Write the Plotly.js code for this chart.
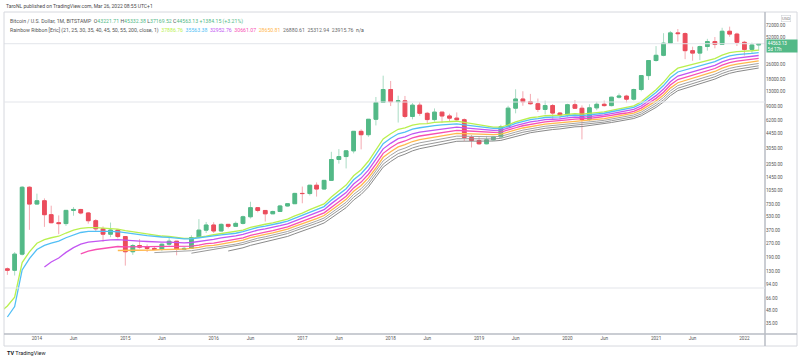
<!DOCTYPE html>
<html><head><meta charset="utf-8">
<script src="https://cdn.plot.ly/plotly-3.0.1.min.js"></script>
<style>html,body{margin:0;padding:0;background:#fff;}#chart{width:800px;height:362px;}</style>
</head><body><div id="chart"></div>
<script>
// ---------- DATA ----------
const months = [
 '2013-07','2013-08','2013-09','2013-10','2013-11','2013-12',
 '2014-01','2014-02','2014-03','2014-04','2014-05','2014-06','2014-07','2014-08','2014-09','2014-10','2014-11','2014-12',
 '2015-01','2015-02','2015-03','2015-04','2015-05','2015-06','2015-07','2015-08','2015-09','2015-10','2015-11','2015-12',
 '2016-01','2016-02','2016-03','2016-04','2016-05','2016-06','2016-07','2016-08','2016-09','2016-10','2016-11','2016-12',
 '2017-01','2017-02','2017-03','2017-04','2017-05','2017-06','2017-07','2017-08','2017-09','2017-10','2017-11','2017-12',
 '2018-01','2018-02','2018-03','2018-04','2018-05','2018-06','2018-07','2018-08','2018-09','2018-10','2018-11','2018-12',
 '2019-01','2019-02','2019-03','2019-04','2019-05','2019-06','2019-07','2019-08','2019-09','2019-10','2019-11','2019-12',
 '2020-01','2020-02','2020-03','2020-04','2020-05','2020-06','2020-07','2020-08','2020-09','2020-10','2020-11','2020-12',
 '2021-01','2021-02','2021-03','2021-04','2021-05','2021-06','2021-07','2021-08','2021-09','2021-10','2021-11','2021-12',
 '2022-01','2022-02','2022-03'];
const candleMonths = months.slice(2); // 2013-09 .. 2022-03

const open = [
 140,135,204,1130,
 735,800,560,456,446,625,640,585,480,390,340,378,
 320,217,254,244,236,230,263,284,230,236,312,377,
 430,369,437,416,448,531,670,624,573,608,700,742,
 965,962,1190,1080,1348,2300,2480,2870,4730,4340,6440,9900,
 13800,10100,10330,6925,9240,7500,6390,7730,7010,6630,6370,4040,
 3740,3440,3810,4100,5320,8560,10820,10080,9590,8290,9150,7550,
 7190,9350,8540,6410,8630,9450,9140,11330,11650,10780,13800,19700,
 28990,33110,45160,58800,57720,37300,35040,41460,47100,43800,61300,57000,
 46200,38500,43221.71];
const high = [
 145,215,1163,1160,
 960,850,705,550,630,680,650,600,500,415,458,384,
 322,265,300,262,245,268,317,285,245,330,500,465,
 462,448,440,470,547,780,680,630,620,720,750,980,
 1150,1200,1280,1350,2800,3000,2920,4760,4980,6450,11400,19660,
 17180,11780,11700,9750,9990,7780,8500,7750,7420,7680,6590,4310,
 4070,4210,4150,5600,9100,13880,13200,12330,10950,10370,9520,7750,
 9580,10500,9190,9460,10070,10400,11450,12470,12050,14100,19860,29300,
 41950,58350,61800,64900,59500,41300,42400,50500,52900,67000,69000,59100,
 47900,45800,45332.38];
const low = [
 120,118,197,380,
 730,410,450,340,420,545,565,445,365,280,315,305,
 152,200,235,215,228,220,253,198,225,235,305,350,
 350,365,395,412,436,508,595,470,570,603,690,740,
 750,915,890,1060,1348,2070,1830,2690,2980,4110,5500,10400,
 9030,5920,6600,6430,7035,5750,6070,5880,6110,6200,3650,3130,
 3350,3390,3700,4060,5320,7500,9100,9350,7750,7300,6520,6430,
 6860,8450,3850,6150,8120,8900,8960,10950,9880,10400,13200,17600,
 28130,32300,45000,47000,30000,28800,29300,37300,39600,43300,53300,42000,
 32950,34300,37169.52];
const close = [
 135,204,1130,735,
 800,560,456,446,625,640,585,480,390,340,378,320,
 217,254,244,236,230,263,284,230,236,312,377,430,
 369,437,416,448,531,670,624,573,608,700,742,965,
 962,1190,1080,1348,2300,2480,2870,4730,4340,6440,9900,13800,
 10100,10330,6925,9240,7500,6390,7730,7010,6630,6370,4040,3740,
 3440,3810,4100,5320,8560,10820,10080,9590,8290,9150,7550,7190,
 9350,8540,6410,8630,9450,9140,11330,11650,10780,13800,19700,28990,
 33110,45160,58800,57720,37300,35040,41460,47100,43800,61300,57000,46200,
 38500,43178.98,44563.13];

const N = k => Array(k).fill(null);
// Rainbow Ribbon lines (one per month)
const rib21 = [
 37,46,54.1,67.7,164.3,216.2,
 269.3,295.7,310.3,322.6,350.1,376.4,395.4,403.1,401.9,396.3,394.6,387.8,
 372.3,361.5,350.8,340.4,330.4,324.3,320.6,312.4,305.5,306.1,312.5,323.2,
 335,345,352,361,377,404,424.5,438.5,454,476.5,500.8,543,
 582,637.3,677.5,738.4,880.4,1025.8,1193.5,1515,1771.8,2196.2,2896.5,3887.7,
 4452.5,4986.8,5163,5533.6,5712.4,5774,5951.8,6048,6100.9,6125.4,5935.8,5736.2,
 5527.5,5371.4,5255.8,5261.6,5561.5,6039.5,6406.8,6696.2,6841.1,7051,7096.4,7104.9,
 7309,7420.9,7329,7447.3,7629.3,7766.6,8090.5,8414.1,8629.2,9099.3,10063,11783.6,
 13722.4,16580.4,20418.5,23809.5,25035.9,25945.4,27355.8,29150.7,30482.5,33284.1,35440.1,36418.3,
 36607.5,37204.9,37886.76];
const rib25 = [
 null,null,40.8,53.3,136.1,182.2,
 229.7,255.1,270.6,284.1,310.3,335.7,354.9,364.5,366.5,364.5,365.5,362,
 350.8,343.4,335.8,328.1,320.6,316.2,313.7,307.3,301.8,302.6,308.3,317.7,
 325,333.6,339.9,348.2,362.3,386,404.3,417.3,432,452.6,474.9,512.6,
 547.6,597,634.2,689.1,813,941.2,1089.6,1369.6,1598.1,1970.6,2580.6,3443.6,
 3955.6,4445.9,4636.6,4990.7,5183.7,5276.5,5465.2,5584,5664.5,5718.8,5589.7,5447.4,
 5293,5178.9,5095.9,5113.1,5378.2,5796.8,6126.3,6392.7,6538.6,6739.5,6801.8,6831.7,
 7025.4,7141.9,7085.6,7204.4,7377.1,7512.7,7806.3,8102,8308,8730.5,9574.3,11067.8,
 12763.4,15255.4,18604.8,21613.7,22820.3,23760.3,25121.9,26812.5,28119.2,30671.6,32696.9,33735.6,
 34102.1,34800.3,35563.38];
const rib30 = [
 ...N(6),
 null,147,166.9,184.9,213.3,240.8,263,277,284.3,287.9,293.7,295.4,
 290.3,288,285.2,282,278.6,277.6,278,274.9,272.4,274.9,281.5,291.1,
 298,309.8,316.7,325.2,338.5,359.9,376.9,389.6,403.7,422.8,443.4,477,
 508.7,552.7,586.7,635.8,743.2,855.2,985.2,1226.8,1427.7,1751.1,2276.8,3020.2,
 3477,3919.1,4113,4443.8,4641,4753.8,4945.8,5079,5179,5255.8,5177.4,5084.7,
 4978.6,4903.2,4851.4,4881.6,5118.9,5486.7,5783,6028.6,6174.5,6366.5,6442.9,6491.1,
 6675.5,6795.8,6770.9,6890.9,7056,7190.5,7457.6,7728.1,7925,8304,9039.2,10326.3,
 11796.2,13948.7,16842.4,19479.7,20629.4,21559.1,22843,24408,25659.1,27958.5,29832.2,30888.2,
 31379.3,32140.6,32952.76];
const rib35 = [
 ...N(6),
 ...N(6),205,220.3,229.7,235.8,243.7,247.9,
 246.2,246.6,246.5,245.9,245,246,248.1,247.1,246.5,250.1,257.1,266.7,
 271,280.2,287.7,296.6,309.6,329.6,346,358.6,372.5,390.7,410.2,441,
 470.3,510.3,541.9,586.7,681.9,781.8,897.8,1110.7,1290.1,1576.2,2038.6,2692,
 3103.6,3505.1,3695.1,4003.1,4197.4,4319.2,4508.7,4647.7,4757.8,4847.4,4802.5,4743.5,
 4671.1,4623.3,4594.2,4634.5,4852.6,5184.1,5456.1,5685.8,5830.5,6014.9,6100.2,6160.7,
 6337.9,6460.2,6457.4,6578.1,6737.6,6871.1,7118.8,7370.5,7559.9,7906.6,8561.8,9696.7,
 10997.4,12895.3,15445.6,17794.2,18877.9,19775.8,20980.5,22431.6,23618.7,25712.1,27450.3,28492,
 29048,29833.1,30661.07];
const rib40 = [
 ...N(6),
 ...N(11),224,
 223.7,225.2,226.1,226.6,226.8,228.6,231.3,231.2,231.4,235.3,242.2,251.4,
 255,263.9,271.3,279.9,292.2,310.6,325.9,338,351.1,368.1,386.4,414.6,
 441.6,478.1,507.5,548.5,633.9,724,828.7,1019,1181,1437.5,1850.3,2433.2,
 2807.2,3174.1,3357.1,3644.1,3832.2,3957,4141,4281,4395.6,4491.9,4469.9,4434.3,
 4385.8,4357.7,4345.1,4392.7,4596,4899.6,5152.3,5368.8,5511.3,5688.8,5779.6,5848.4,
 6019.2,6142.2,6155.3,6276,6430.8,6563,6795.5,7032.3,7215.1,7536.3,8129.6,9147.2,
 10316.1,12015.8,14297.9,16416.1,17434.8,18293.6,19422.6,20772.7,21896,23818.2,25436.8,26449.6,
 27037.4,27824.8,28650.81];
const rib45 = [
 ...N(6),
 ...N(12),
 ...N(4),212,214.2,217.2,217.8,218.6,222.7,229.4,238.1,
 242,247.6,254.9,263.3,274.9,292.1,306.5,318.1,330.7,346.8,364,390.1,
 415.2,448.9,476.3,514.2,591.8,673.9,769.4,941.6,1089.4,1322,1695,2221.3,
 2563.8,2901.5,3076.4,3344.4,3525.1,3649.7,3827.1,3965.5,4081.3,4180.8,4174.7,4155.8,
 4124.7,4111,4110.5,4163.1,4354.3,4635.4,4872.1,5077.2,5216.9,5387.9,5481.9,5556.2,
 5721.1,5843.7,5868.3,5988.4,6138.9,6269.4,6489.4,6713.8,6890.6,7191,7734.9,8659,
 9722.1,11262.8,13329.6,15259.6,16217.9,17036.2,18098.1,19359,20421.7,22199,23712,24689.7,
 25290.2,26067.9,26880.61];
const rib50 = [
 ...N(6),
 ...N(12),
 ...N(9),209,215.6,224,
 229,235.2,242.3,250.4,261.4,277.4,291,302.1,314.1,329.2,345.4,369.7,
 393.2,424.4,450.1,485.3,556.5,631.9,719.7,877,1012.8,1225.6,1565.8,2045.6,
 2361.5,2674,2840.7,3091.7,3264.6,3387.2,3557.5,3692.9,3808.1,3908.6,3913.7,3906.9,
 3888.6,3885.5,3893.9,3949.8,4130.6,4392.9,4615.9,4811,4947.4,5112.2,5207.8,5285.5,
 5444.9,5566.3,5599.4,5718.2,5864.5,5993,6202.3,6415.9,6587,6869.9,7373,8220.7,
 9196.8,10607.1,12497,14270.5,15173.6,15952.6,16952.9,18135.2,19141.7,20794.7,22214.5,23155.1,
 23756.9,24518.5,25312.94];
const rib55 = [
 ...N(6),
 ...N(12),
 ...N(12),
 null,null,221,229.1,239.9,255.3,268,278.9,290.6,305.2,320.8,343.8,
 366.1,395.5,419.9,453,518.9,588.9,670.3,815.2,941,1137,1450,1891,
 2184,2475,2634,2870,3035,3155,3318,3450,3564,3664,3677,3679,
 3671,3676,3691,3749,3921,4167,4378,4564,4697,4856,4952,5032,
 5186,5306,5345,5462,5604,5730,5930,6134,6300,6568,7037,7821,
 8724,10025,11766,13407,14260,15002,15946,17058,18013,19558,20895,21798,
 22395,23137,23915.76];

const ribbons = [rib21, rib25, rib30, rib35, rib40, rib45, rib50, rib55];
const ribbonColors = ['#b9f04f','#52bff5','#c256f2','#f74fb3','#ffb84d','#a3a3a3','#979797','#8a8a8a'];
const ribbonParams = '21, 25, 30, 35, 40, 45, 50, 55, 200, close, 1';

const yTickVals = [35,48,66,94,130,190,270,370,530,730,1050,1450,2050,3050,4450,6200,9000,13000,18000,26000,52000,72000,104000];
const xTickVals = ['2014-01','2014-06','2015-01','2015-06','2016-01','2016-06','2017-01','2017-06','2018-01','2018-06','2019-01','2019-06','2020-01','2020-06','2021-01','2021-06','2022-01'];
const xTickText = ['2014','Jun','2015','Jun','2016','Jun','2017','Jun','2018','Jun','2019','Jun','2020','Jun','2021','Jun','2022'];

// ---------- checks ----------
ribbons.forEach((r,i)=>{ if (r.length !== months.length) throw new Error('ribbon '+i+' length '+r.length); });
[open,high,low,close].forEach((a,i)=>{ if (a.length !== candleMonths.length) throw new Error('ohlc '+i+' length '+a.length); });

// ---------- styling ----------
const GREEN = '#53b987', RED = '#eb4d5c';
const W = 800, H = 362, L = 4, R = 35, T = 12, B = 28;
const pw = W - L - R, ph = H - T - B;
const px = x => (x - L) / pw;
const py = y => (H - B - y) / ph;
const FONT = 'Roboto, "Liberation Sans", Arial, sans-serif';

const traces = [];
// wicks (full candles in light colours)
traces.push({
  type:'candlestick', x:candleMonths, open:open, high:high, low:low, close:close,
  increasing:{line:{color:'#a9dcc4', width:1}, fillcolor:'#a9dcc4'},
  decreasing:{line:{color:'#f4aab2', width:1}, fillcolor:'#f4aab2'},
  whiskerwidth:0, hoverinfo:'skip'
});
// bodies
const bodyHi = open.map((o,i)=>Math.max(o, close[i]));
const bodyLo = open.map((o,i)=>Math.min(o, close[i]));
traces.push({
  type:'candlestick', x:candleMonths, open:open, high:bodyHi, low:bodyLo, close:close,
  increasing:{line:{color:GREEN, width:1}, fillcolor:GREEN},
  decreasing:{line:{color:RED, width:1}, fillcolor:RED},
  whiskerwidth:0, hoverinfo:'skip'
});
// ribbon lines
ribbons.forEach((r,i)=>{
  traces.push({type:'scatter', mode:'lines', x:months, y:r,
    line:{color:ribbonColors[i], width: i<5 ? 1.3 : 1}, hoverinfo:'skip', connectgaps:false});
});
// last price line
const lastC = close[close.length-1];
traces.push({type:'scatter', mode:'lines', x:['2013-06', '2022-06'], y:[lastC,lastC],
  line:{color:'#e3e5ea', width:1}, hoverinfo:'skip'});

const prevC = close[close.length-2];
const chg = lastC - prevC, pct = chg/prevC*100;
const n = open.length-1;
const g = s => '<span style="color:'+GREEN+'">'+s+'</span>';
const legend1 = 'Bitcoin / U.S. Dollar, 1M, BITSTAMP  O'+g(open[n].toFixed(2))+' H'+g(high[n].toFixed(2))+
  ' L'+g(low[n].toFixed(2))+' C'+g(lastC.toFixed(2))+' '+g((chg>=0?'+':'')+chg.toFixed(2)+' ('+(pct>=0?'+':'')+pct.toFixed(2)+'%)');
let legend2 = 'Rainbow Ribbon [Eric] ('+ribbonParams+')  ';
ribbons.forEach((r,i)=>{
  const c = i<5 ? ribbonColors[i] : '#6b6b6b';
  legend2 += '<span style="color:'+c+'">'+r[r.length-1].toFixed(2)+'</span>  ';
});
legend2 += 'n/a';

const lineGray = '#e3e5ea';
const shapes = [
  {type:'line', xref:'paper', yref:'paper', x0:px(4), x1:px(797), y0:py(12), y1:py(12), line:{color:'#d6d8de', width:1}},
  {type:'line', xref:'paper', yref:'paper', x0:px(4), x1:px(4), y0:py(12), y1:py(346), line:{color:'#d6d8de', width:1}},
  {type:'line', xref:'paper', yref:'paper', x0:px(797), x1:px(797), y0:py(12), y1:py(346), line:{color:'#d6d8de', width:1}},
  {type:'line', xref:'paper', yref:'paper', x0:px(4), x1:px(797), y0:py(346), y1:py(346), line:{color:'#d6d8de', width:1}},
  {type:'line', xref:'paper', yref:'paper', x0:px(4), x1:px(797), y0:py(334), y1:py(334), line:{color:'#b9bcc4', width:1.5}},
  {type:'line', xref:'paper', yref:'paper', x0:px(765), x1:px(765), y0:py(12), y1:py(346), line:{color:'#b9bcc4', width:1.5}},
  {type:'line', xref:'paper', yref:'paper', x0:px(4), x1:px(765), y0:py(102), y1:py(102), line:{color:lineGray, width:1}},
  {type:'line', xref:'paper', yref:'paper', x0:px(4), x1:px(765), y0:py(288), y1:py(288), line:{color:lineGray, width:1}}
];

const annotations = [
  {xref:'paper', yref:'paper', x:px(4), y:py(6), xanchor:'left', yanchor:'middle', showarrow:false,
   text:'TaroNL published on TradingView.com, Mar 26, 2022 08:55 UTC+1', font:{family:FONT, size:5, color:'#4a4a4a'}},
  {xref:'paper', yref:'paper', x:px(8), y:py(21), xanchor:'left', yanchor:'middle', showarrow:false,
   text:legend1, font:{family:FONT, size:5.2, color:'#555'}},
  {xref:'paper', yref:'paper', x:px(8), y:py(31), xanchor:'left', yanchor:'middle', showarrow:false,
   text:legend2, font:{family:FONT, size:5.2, color:'#555'}},
  {xref:'paper', yref:'paper', x:px(786), y:py(18.2), xanchor:'center', yanchor:'middle', showarrow:false,
   text:'USD', font:{family:FONT, size:4.3, color:'#777'}, bordercolor:'#cfd2d8', borderwidth:0.6, borderpad:0.4, bgcolor:'#fff'},
  {xref:'paper', yref:'paper', x:px(766), y:py(45.8), xanchor:'left', yanchor:'middle', showarrow:false, align:'left',
   text:lastC.toFixed(2)+'<br>5d 17h', font:{family:FONT, size:4.6, color:'#fff'}, bgcolor:GREEN, borderpad:0.6, width:29},
  {xref:'paper', yref:'paper', x:px(5), y:py(353), xanchor:'left', yanchor:'middle', showarrow:false,
   text:'<b>TV</b> TradingView', font:{family:FONT, size:5.5, color:'#131722'}}
];

const layout = {
  width:W, height:H, margin:{l:L, r:R, t:T, b:B, pad:0},
  paper_bgcolor:'#fff', plot_bgcolor:'#fff', showlegend:false,
  font:{family:FONT, size:5, color:'#555'},
  boxgap:0.22,
  xaxis:{type:'date', range:['2013-08-18','2022-03-27'], tickvals:xTickVals, ticktext:xTickText,
    showgrid:false, zeroline:false, showline:false, ticks:'', tickfont:{family:FONT, size:4.6, color:'#555'},
    rangeslider:{visible:false}, fixedrange:true},
  yaxis:{type:'log', side:'right', range:[1.4217, 5.0015], tickvals:yTickVals,
    ticktext:yTickVals.map(v=>v.toFixed(2)), showgrid:false, zeroline:false, showline:false, ticks:'',
    tickfont:{family:FONT, size:4.6, color:'#555'}, fixedrange:true},
  shapes:shapes, annotations:annotations
};

Plotly.newPlot('chart', traces, layout, {staticPlot:true, displayModeBar:false});
</script></body></html>
